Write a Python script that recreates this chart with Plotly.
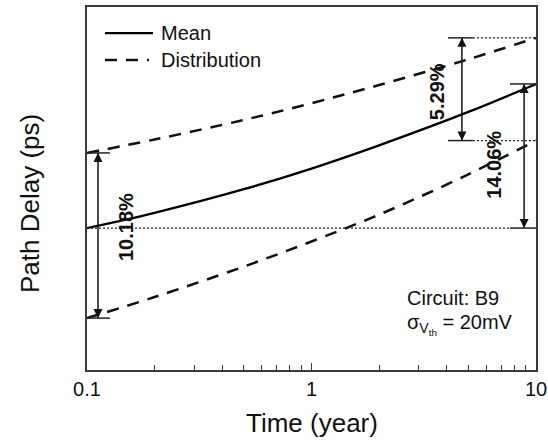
import math
import plotly.graph_objects as go

# ---- data (y in arbitrary ps units) ----
time_years = [0.1, 0.2, 0.5, 1, 2, 5, 10]
mean_delay = [39.1, 43.3, 49.8, 55.5, 61.9, 71.1, 78.8]
dist_upper = [59.8, 63.5, 68.9, 73.5, 78.5, 85.6, 91.5]
dist_lower = [14.3, 20.1, 28.5, 35.4, 42.8, 53.9, 63.2]
pct_labels = ["10.18%", "5.29%", "14.06%"]
x_ticks = [0.1, 1, 10]
x_tick_text = ["0.1", "1", "10"]

FONT = "Liberation Sans, Arial, Helvetica, sans-serif"
INK = "#111111"
FRAME = "#3a3a3a"
DASH = "12px,9px"
DOT = "2px,2px"

fig = go.Figure()

# curves
fig.add_trace(go.Scatter(x=time_years, y=dist_upper, mode="lines",
                         line=dict(color=INK, width=2.5, dash=DASH, shape="spline", smoothing=1.0),
                         showlegend=False, hoverinfo="skip"))
fig.add_trace(go.Scatter(x=time_years, y=dist_lower, mode="lines",
                         line=dict(color=INK, width=2.5, dash=DASH, shape="spline", smoothing=1.0),
                         showlegend=False, hoverinfo="skip"))
fig.add_trace(go.Scatter(x=time_years, y=mean_delay, mode="lines",
                         line=dict(color="#000000", width=2.3, shape="spline", smoothing=1.0),
                         showlegend=False, hoverinfo="skip"))

# double-headed arrows (values from data arrays)
def lg(v):
    return 10 ** v

arrow_specs = [
    (lg(-0.951), dist_upper[0], dist_lower[0]),
    (lg(0.670), dist_upper[-1], dist_lower[-1]),
    (lg(0.947), mean_delay[-1], mean_delay[0]),
]
for xa, ytop, ybot in arrow_specs:
    fig.add_trace(go.Scatter(x=[xa, xa], y=[ytop, ybot], mode="lines+markers",
                             line=dict(color="#222222", width=1.6),
                             marker=dict(symbol=["arrow-up", "arrow-down"], size=9,
                                         color="#111111", line=dict(width=0)),
                             showlegend=False, hoverinfo="skip"))

shapes = []
def hseg(x0, x1, y, dash=None, width=1.5):
    shapes.append(dict(type="line", xref="x", yref="y", x0=x0, x1=x1, y0=y, y1=y,
                       line=dict(color="#222222", width=width, dash=dash)))

# reference levels
x_split_r = lg(0.884)
hseg(0.1, x_split_r, mean_delay[0], dash=DOT, width=1.3)
hseg(x_split_r, 10, mean_delay[0])
hseg(x_split_r, 10, mean_delay[-1])
hseg(0.1, lg(-0.898), dist_upper[0])
hseg(0.1, lg(-0.898), dist_lower[0])
for yv in (dist_upper[-1], dist_lower[-1]):
    hseg(lg(0.608), lg(0.719), yv)
    hseg(lg(0.719), 10, yv, dash=DOT, width=1.3)

# manual legend
shapes.append(dict(type="line", xref="paper", yref="paper", x0=0.040, x1=0.147, y0=0.928, y1=0.928,
                   line=dict(color="#000000", width=2.3)))
shapes.append(dict(type="line", xref="paper", yref="paper", x0=0.040, x1=0.138, y0=0.854, y1=0.854,
                   line=dict(color=INK, width=2.5, dash=DASH)))

def txt(text, x, y, size=20, angle=0, xanchor="center"):
    return dict(text=text, x=x, y=y, xref="paper", yref="paper", textangle=angle,
                xanchor=xanchor, yanchor="middle", showarrow=False,
                font=dict(family=FONT, size=size, color=INK))

annotations = [
    txt("Mean", 0.160, 0.928, xanchor="left"),
    txt("Distribution", 0.160, 0.854, xanchor="left"),
    txt("Circuit: B9", 0.708, 0.198, xanchor="left"),
    txt("σ<sub>V<sub>th</sub></sub> = 20mV", 0.708, 0.124, xanchor="left"),
    txt("<b>%s</b>" % pct_labels[0], 0.087, 0.394, angle=-90),
    txt("<b>%s</b>" % pct_labels[1], 0.780, 0.766, angle=-90),
    txt("<b>%s</b>" % pct_labels[2], 0.906, 0.565, angle=-90),
    txt("Path Delay (ps)", -0.127, 0.46, size=26, angle=-90),
    txt("Time (year)", 0.5, -0.146, size=26),
]

fig.update_layout(
    width=548, height=443,
    margin=dict(l=87, r=12, t=7, b=73, autoexpand=False),
    paper_bgcolor="white", plot_bgcolor="white",
    shapes=shapes, annotations=annotations,
    showlegend=False,
    xaxis=dict(type="log", range=[-1, 1], showgrid=False, zeroline=False,
               showline=True, linecolor=FRAME, linewidth=1.5, mirror=True,
               tickmode="array", tickvals=x_ticks, ticktext=x_tick_text,
               ticks="inside", ticklen=7, tickwidth=1.3, tickcolor=FRAME,
               tickfont=dict(family=FONT, size=20, color=INK),
               minor=dict(ticks="inside", ticklen=5, tickwidth=1.2, tickcolor=FRAME,
                          dtick="D1", showgrid=False)),
    yaxis=dict(range=[0, 100], showgrid=False, zeroline=False,
               showline=True, linecolor=FRAME, linewidth=1.5, mirror=True,
               showticklabels=False, ticks=""),
)

fig.write_html("out.html", config={"displayModeBar": False},
               post_script="document.body.style.margin='0';")
